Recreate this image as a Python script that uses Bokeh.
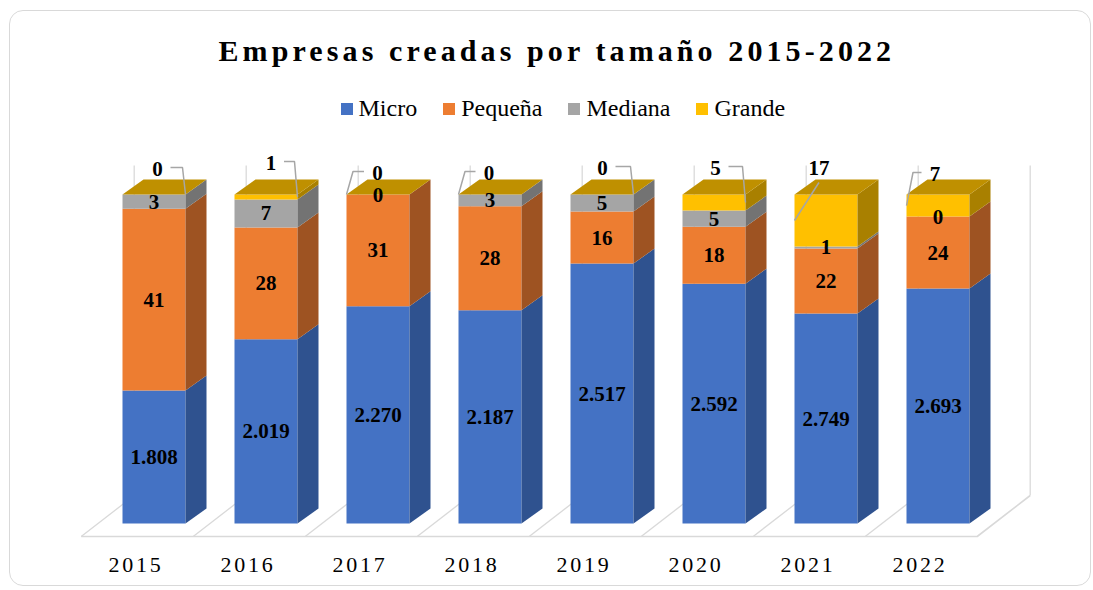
from bokeh.plotting import figure
from bokeh.models import Range1d, ColumnDataSource
from bokeh.layouts import column
from bokeh.core.properties import value
from bokeh.embed import file_html
from bokeh.resources import INLINE

# ---------------- data ----------------
years = ["2015", "2016", "2017", "2018", "2019", "2020", "2021", "2022"]
series = ["Micro", "Pequeña", "Mediana", "Grande"]
title_text = "Empresas creadas por tamaño 2015-2022"

# values printed as data labels
micro = [1808, 2019, 2270, 2187, 2517, 2592, 2749, 2693]
pequena = [41, 28, 31, 28, 16, 18, 22, 24]
mediana = [3, 7, 0, 3, 5, 5, 1, 0]
grande = [0, 1, 0, 0, 0, 5, 17, 7]

# segment heights as drawn (share of each 100% column)
micro_pct = [40.4, 56.0, 66.0, 64.8, 79.0, 72.9, 63.8, 71.4]
pequena_pct = [55.3, 34.0, 34.0, 31.6, 15.8, 17.3, 19.8, 21.9]
mediana_pct = [4.3, 8.5, 0.0, 3.6, 5.2, 4.9, 0.6, 0.0]
grande_pct = [0.0, 1.5, 0.0, 0.0, 0.0, 4.9, 15.8, 6.7]

# ---------------- style ----------------
front_colors = ["#4472C4", "#ED7D31", "#A5A5A5", "#FFC000"]
side_colors = ["#2F528F", "#9E5322", "#737373", "#A98000"]
top_color = "#BF9000"
grid_color = "#D9D9D9"
leader_color = "#A6A6A6"
FONT = "Liberation Serif"

# callout placement for the "Grande" labels (pixel offsets)
callout_side = ["R", "R", "L", "L", "R", "R", "S", "L"]
callout_dx = [3.5, 5.0, -0.5, -1.0, 0.5, 1.5, -7.0, -3.0]
callout_rise = [26, 32, 22, 22, 27, 27, 27, 21]

OX, OY = 10, 11                 # page px of the content origin
PXX, PXY = 112.0, 3.29          # px per category, px per percent
X0, Y0 = 153.5, 523.0           # page px of first bar centre / bar base
W, DX, DY = 63 / PXX, 21 / PXX, 15 / PXY
WIDTH = 1080
H_TITLE, H_MAIN, H_CAT = 78, 452, 44


def xd(px):
    return (px - X0) / PXX


def yd(py):
    return (Y0 - py) / PXY


def fmt(v):
    return f"{v:,}".replace(",", ".")


n = len(years)
stacks = [micro_pct, pequena_pct, mediana_pct, grande_pct]
vals = [micro, pequena, mediana, grande]

common = dict(x_axis_type=None, y_axis_type=None, output_backend="svg",
              toolbar_location=None, min_border=0, outline_line_color=None,
              background_fill_alpha=0, border_fill_alpha=0)

# ---------------- main figure ----------------
main_top = OY + H_TITLE
main_bot = main_top + H_MAIN
main = figure(width=WIDTH, height=H_MAIN,
              x_range=Range1d(xd(OX), xd(OX + WIDTH)),
              y_range=Range1d(yd(main_bot), yd(main_top)), **common)

FY0, FY1 = yd(536), yd(495)
SL = (53 / PXX) / (FY1 - FY0)
bounds = [k - 0.5 for k in range(n + 1)]

# floor
main.multi_line(xs=[[b + SL * FY0, b + SL * FY1] for b in bounds[:-1]],
                ys=[[FY0, FY1]] * n, line_color=grid_color, line_width=1.3)
main.line([bounds[0] + SL * FY0, bounds[-1] + SL * FY0, bounds[-1] + SL * FY1],
          [FY0, FY0, FY1], line_color=grid_color, line_width=1.6)
# back wall verticals
main.multi_line(xs=[[b + SL * FY1] * 2 for b in bounds],
                ys=[[FY1, yd(165)]] * (n + 1), line_color=grid_color, line_width=1.3)

src = ColumnDataSource(dict(x=list(range(n)), **{s: st for s, st in zip(series, stacks)}))
main.vbar_stack(series, x="x", width=W, source=src, fill_color=front_colors,
                line_color=None, legend_label=series)

# side and top faces
side_xs, side_ys, side_c = [], [], []
top_xs, top_ys = [], []
for i in range(n):
    cum = 0.0
    xr = i + W / 2
    for j in range(4):
        y0, y1 = cum, cum + stacks[j][i]
        cum = y1
        if y1 > y0:
            side_xs.append([xr, xr + DX, xr + DX, xr])
            side_ys.append([y0, y0 + DY, y1 + DY, y1])
            side_c.append(side_colors[j])
    xl = i - W / 2
    top_xs.append([xl, xl + DX, xr + DX, xr])
    top_ys.append([cum, cum + DY, cum + DY, cum])
main.patches(side_xs, side_ys, fill_color=side_c, line_color=None)
main.patches(top_xs, top_ys, fill_color=top_color, line_color=None)

# inside labels (Micro, Pequeña, Mediana)
lx, ly, lt = [], [], []
for i in range(n):
    cum = 0.0
    for j in range(3):
        y0 = cum
        cum += stacks[j][i]
        lx.append(i)
        ly.append((y0 + cum) / 2)
        lt.append(fmt(vals[j][i]))
main.text(lx, ly, text=lt, text_align="center", text_baseline="middle",
          text_font=value(FONT), text_font_style="bold", text_font_size="21px",
          text_color="#000000")

# callouts for Grande
cx, cy, ct = [], [], []
lxs, lys = [], []
for i in range(n):
    top = sum(st[i] for st in stacks)
    g0 = top - grande_pct[i]
    anchor = (g0 + top) / 2
    lab_x = i + callout_dx[i] / PXX
    lab_y = top + callout_rise[i] / PXY
    cx.append(lab_x)
    cy.append(lab_y)
    ct.append(fmt(grande[i]))
    hy = lab_y + 1 / PXY
    if callout_side[i] == "R":
        lxs.append([lab_x + 13 / PXX, i + 28.5 / PXX, i + 31.5 / PXX])
        lys.append([hy, hy, anchor])
    elif callout_side[i] == "L":
        lxs.append([lab_x - 13.5 / PXX, i - 25 / PXX, i - 31.5 / PXX])
        lys.append([hy, hy, anchor])
    else:
        lxs.append([lab_x, i - 31.5 / PXX])
        lys.append([lab_y - 15 / PXY, anchor])
main.multi_line(lxs, lys, line_color=leader_color, line_width=1.5)
main.text(cx, cy, text=ct, text_align="center", text_baseline="middle",
          text_font=value(FONT), text_font_style="bold", text_font_size="21px",
          text_color="#000000")

leg = main.legend[0]
leg.orientation = "horizontal"
leg.location = (338.5 - OX, main_bot - 109 - 13.3)
leg.glyph_width = 15
leg.glyph_height = 15
leg.label_standoff = 5
leg.spacing = 24
leg.padding = 0
leg.margin = 0
leg.border_line_color = None
leg.background_fill_alpha = 0
leg.label_text_font = FONT
leg.label_text_font_size = "24px"
leg.label_text_color = "#000000"

# ---------------- title strip ----------------
tf = figure(width=WIDTH, height=H_TITLE, x_range=Range1d(0, WIDTH),
            y_range=Range1d(H_TITLE, 0), styles={"letter-spacing": "4.1px"}, **common)
tf.text([218 - OX], [50 - OY], text=[title_text], text_align="left",
        text_baseline="middle", text_font=value(FONT), text_font_style="bold",
        text_font_size="30px", text_color="#000000")

# ---------------- category labels strip ----------------
yf = figure(width=WIDTH, height=H_CAT, x_range=Range1d(xd(OX), xd(OX + WIDTH)),
            y_range=Range1d(H_CAT, 0), styles={"letter-spacing": "2.7px"}, **common)
yf.text([i + SL * FY0 - 6.6 / PXX for i in range(n)], [564 - main_bot] * n, text=years,
        text_align="center", text_baseline="middle", text_font=value(FONT),
        text_font_size="22px", text_color="#000000")

layout = column(tf, main, yf,
                styles={"border": "1px solid #D9D9D9", "border-radius": "14px",
                        "background-color": "#FFFFFF",
                        "margin": f"{OY - 1}px 0 0 {OX - 1}px"})

open("out.html", "w").write(file_html(layout, INLINE))
